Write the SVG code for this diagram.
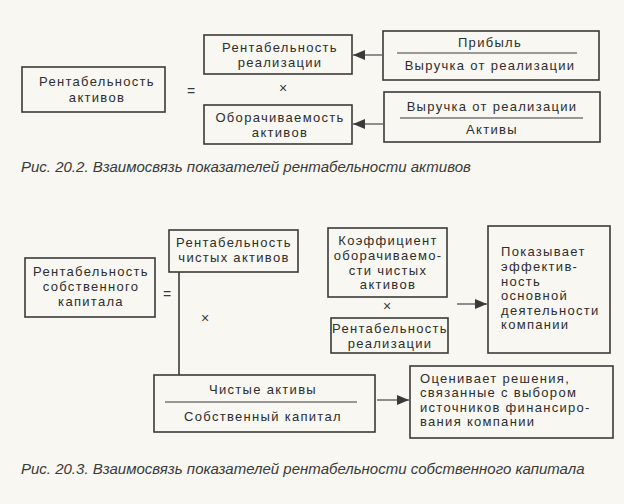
<svg xmlns="http://www.w3.org/2000/svg" width="624" height="504" viewBox="0 0 624 504">
<defs>
<marker id="ah" viewBox="0 0 12 10" refX="12" refY="5" markerWidth="12" markerHeight="10" markerUnits="userSpaceOnUse" orient="auto">
<path d="M0,0 L12,5 L0,10 Z" fill="#3a3a3a"/>
</marker>
</defs>
<style>
.bx{fill:none;stroke:#3a3a3a;stroke-width:1.6}
.dv{stroke:#3a3a3a;stroke-width:1.2}
.t{font-family:"Liberation Sans",Arial,sans-serif;font-size:13px;fill:#2e2e2e;letter-spacing:1.3px}
.c{text-anchor:middle}
.op{font-family:"Liberation Sans",Arial,sans-serif;font-size:14px;fill:#3a3a3a;text-anchor:middle}
.cap{font-family:"Liberation Sans",Arial,sans-serif;font-size:15px;font-style:italic;fill:#3a3a3a}
.cn{stroke:#555;stroke-width:1.3;fill:none}
</style>
<rect width="624" height="504" fill="#f8f7f1"/>

<g id="n-ra">
<rect class="bx" x="22" y="67" width="143" height="45"/>
<text class="t c" x="97" y="86">Рентабельность</text>
<text class="t c" x="97" y="102">активов</text>
</g>
<text class="op" x="191" y="96">=</text>
<g id="n-rr">
<rect class="bx" x="204" y="35" width="148" height="39"/>
<text class="t c" x="280" y="52">Рентабельность</text>
<text class="t c" x="280" y="67">реализации</text>
</g>
<text class="op" x="283" y="93">×</text>
<g id="n-oa">
<rect class="bx" x="204" y="105" width="148" height="39"/>
<text class="t c" x="280" y="122">Оборачиваемость</text>
<text class="t c" x="280" y="137">активов</text>
</g>
<g id="n-f1">
<rect class="bx" x="383" y="31" width="216" height="49"/>
<text class="t c" x="490" y="47">Прибыль</text>
<line class="dv" x1="397" y1="53" x2="577" y2="53"/>
<text class="t c" x="490" y="70">Выручка от реализации</text>
</g>
<g id="n-f2">
<rect class="bx" x="384" y="92" width="216" height="50"/>
<text class="t c" x="492" y="111">Выручка от реализации</text>
<line class="dv" x1="400" y1="118" x2="583" y2="118"/>
<text class="t c" x="492" y="134">Активы</text>
</g>
<text class="cap" x="21" y="172">Рис. 20.2. Взаимосвязь показателей рентабельности активов</text>

<g id="n-rsk">
<rect class="bx" x="25" y="258" width="130" height="59"/>
<text class="t c" x="91" y="276">Рентабельность</text>
<text class="t c" x="91" y="291">собственного</text>
<text class="t c" x="91" y="306">капитала</text>
</g>
<text class="op" x="167" y="299">=</text>
<g id="n-rca">
<rect class="bx" x="169" y="230" width="129" height="42"/>
<text class="t c" x="234" y="247">Рентабельность</text>
<text class="t c" x="234" y="262">чистых активов</text>
</g>
<text class="op" x="205" y="323">×</text>
<g id="n-ko">
<rect class="bx" x="328" y="228" width="119" height="69"/>
<text class="t c" x="388" y="245">Коэффициент</text>
<text class="t c" x="388" y="260">оборачиваемо-</text>
<text class="t c" x="388" y="275">сти чистых</text>
<text class="t c" x="388" y="289">активов</text>
</g>
<text class="op" x="387" y="311">×</text>
<g id="n-rr2">
<rect class="bx" x="331" y="318" width="117" height="35"/>
<text class="t c" x="390" y="333">Рентабельность</text>
<text class="t c" x="390" y="348">реализации</text>
</g>
<g id="n-pok">
<rect class="bx" x="488" y="226" width="122" height="127"/>
<text class="t" x="501" y="256">Показывает</text>
<text class="t" x="501" y="271">эффектив-</text>
<text class="t" x="501" y="286">ность</text>
<text class="t" x="501" y="300">основной</text>
<text class="t" x="501" y="315">деятельности</text>
<text class="t" x="501" y="329">компании</text>
</g>
<g id="n-ca">
<rect class="bx" x="154" y="375" width="221" height="57"/>
<text class="t c" x="263" y="394">Чистые активы</text>
<line class="dv" x1="165" y1="402" x2="357" y2="402"/>
<text class="t c" x="263" y="421">Собственный капитал</text>
</g>
<g id="n-oc">
<rect class="bx" x="410" y="366" width="203" height="72"/>
<text class="t" x="420" y="383">Оценивает решения,</text>
<text class="t" x="420" y="397">связанные с выбором</text>
<text class="t" x="420" y="412">источников финансиро-</text>
<text class="t" x="420" y="426">вания компании</text>
</g>
<text class="cap" x="21" y="474">Рис. 20.3. Взаимосвязь показателей рентабельности собственного капитала</text>

<g id="connectors">
<line class="cn" x1="382" y1="55" x2="353" y2="55" marker-end="url(#ah)"/>
<line class="cn" x1="383" y1="124" x2="353" y2="124" marker-end="url(#ah)"/>
<line class="bx" x1="179" y1="272" x2="179" y2="375"/>
<line class="cn" x1="457" y1="304" x2="487" y2="304" marker-end="url(#ah)"/>
<line class="cn" x1="377" y1="400" x2="409" y2="400" marker-end="url(#ah)"/>
</g>
</svg>
